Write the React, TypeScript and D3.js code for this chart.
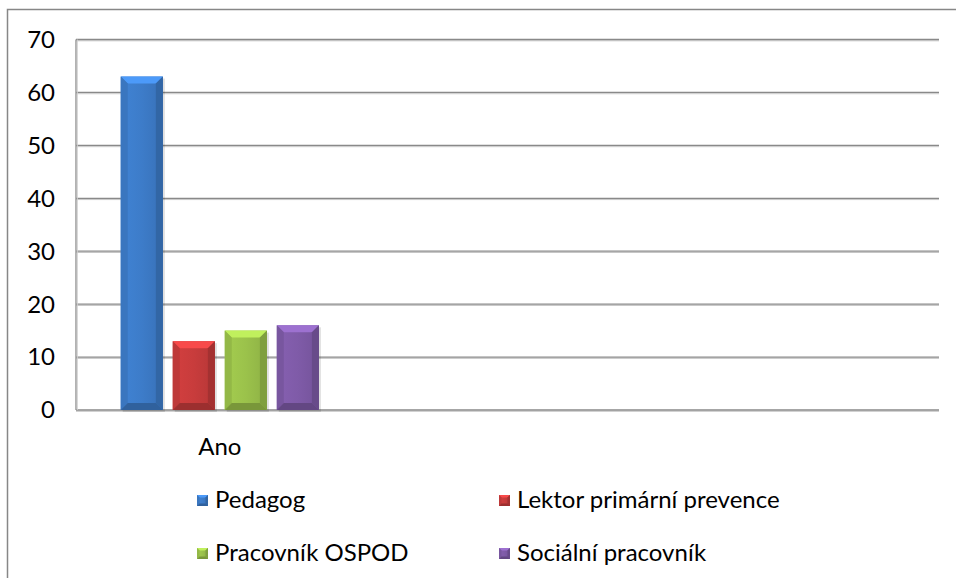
import * as d3 from 'd3';
import { useEffect, useRef } from 'react';

// chart data
const categories = ['Ano', '', ''];
const seriesNames = ['Pedagog', 'Lektor primární prevence', 'Pracovník OSPOD', 'Sociální pracovník'];
const seriesValues = [63, 13, 15, 16];
const seriesColors = ['#3d7cc9', '#c83c3c', '#9bc24b', '#7f5ba8'];
const yTicks = [0, 10, 20, 30, 40, 50, 60, 70];

const WIDTH = 956;
const HEIGHT = 578;
const FONT = 'Lato, "Open Sans", sans-serif';
const FS = 24;

const App = () => {
  const ref = useRef<SVGSVGElement>(null);

  useEffect(() => {
    const svg = d3.select(ref.current);
    svg.selectAll('*').remove();

    const left = 76,
      right = 939,
      top = 39.5,
      bottom = 410;

    const x0 = d3
      .scaleBand<number>()
      .domain(d3.range(categories.length))
      .range([left, right]);
    const x1 = d3
      .scaleBand<string>()
      .domain(seriesNames)
      .range([0, x0.bandwidth()])
      .paddingInner(0.19)
      .paddingOuter(0.86);
    const y = d3.scaleLinear().domain([0, 70]).range([bottom, top]);

    const defs = svg.append('defs');
    seriesColors.forEach((c, i) => {
      const g = defs
        .append('linearGradient')
        .attr('id', 'face' + i)
        .attr('x1', 0)
        .attr('x2', 1)
        .attr('y1', 0)
        .attr('y2', 0);
      g.append('stop').attr('offset', 0).attr('stop-color', d3.color(c)!.brighter(0.15).formatHex());
      g.append('stop').attr('offset', 0.5).attr('stop-color', c);
      g.append('stop').attr('offset', 1).attr('stop-color', d3.color(c)!.darker(0.25).formatHex());
    });

    // outer chart border (runs off the page right and bottom)
    svg
      .append('path')
      .attr('d', `M7.5,${HEIGHT + 5}V9.5H${WIDTH + 5}`)
      .attr('fill', 'none')
      .attr('stroke', '#878787')
      .attr('stroke-width', 1.5);

    // gridlines
    const grid = svg.append('g');
    grid
      .selectAll('line.shade')
      .data(yTicks)
      .enter()
      .append('line')
      .attr('x1', left)
      .attr('x2', right)
      .attr('y1', (d) => y(d) + 1.3)
      .attr('y2', (d) => y(d) + 1.3)
      .attr('stroke', '#c6c6c6')
      .attr('stroke-width', 1);
    grid
      .selectAll('line.main')
      .data(yTicks)
      .enter()
      .append('line')
      .attr('x1', left)
      .attr('x2', right)
      .attr('y1', (d) => y(d))
      .attr('y2', (d) => y(d))
      .attr('stroke', '#898989')
      .attr('stroke-width', 1.3);
    svg
      .append('line')
      .attr('x1', left)
      .attr('x2', left)
      .attr('y1', top)
      .attr('y2', bottom)
      .attr('stroke', '#898989')
      .attr('stroke-width', 1.3);
    svg
      .append('line')
      .attr('x1', left + 1.3)
      .attr('x2', left + 1.3)
      .attr('y1', top)
      .attr('y2', bottom)
      .attr('stroke', '#d0d0d0')
      .attr('stroke-width', 1);

    // y tick labels
    svg
      .append('g')
      .selectAll('text')
      .data(yTicks)
      .enter()
      .append('text')
      .attr('x', 55)
      .attr('y', (d) => y(d))
      .attr('dy', '0.35em')
      .attr('text-anchor', 'end')
      .attr('font-family', FONT)
      .attr('font-size', FS)
      .attr('fill', '#000')
      .text((d) => d);

    // category labels
    svg
      .append('g')
      .selectAll('text')
      .data(categories)
      .enter()
      .append('text')
      .attr('x', (d, i) => x0(i)! + x0.bandwidth() / 2)
      .attr('y', 447)
      .attr('dy', '0.35em')
      .attr('text-anchor', 'middle')
      .attr('font-family', FONT)
      .attr('font-size', FS)
      .attr('fill', '#000')
      .text((d) => d);

    // bevelled box
    const bevel = (
      g: d3.Selection<SVGGElement, unknown, null, undefined>,
      bx: number,
      by: number,
      w: number,
      h: number,
      b: number,
      i: number
    ) => {
      const c = d3.color(seriesColors[i])!;
      g.append('rect').attr('x', bx).attr('y', by).attr('width', w).attr('height', h).attr('fill', `url(#face${i})`);
      g.append('polygon')
        .attr('points', [[bx, by], [bx + w, by], [bx + w - b, by + b], [bx + b, by + b]].join(' '))
        .attr('fill', c.brighter(0.6).formatHex());
      g.append('polygon')
        .attr('points', [[bx, by], [bx + b, by + b], [bx + b, by + h - b], [bx, by + h]].join(' '))
        .attr('fill', c.darker(0.15).formatHex());
      g.append('polygon')
        .attr('points', [[bx + w, by], [bx + w - b, by + b], [bx + w - b, by + h - b], [bx + w, by + h]].join(' '))
        .attr('fill', c.darker(0.55).formatHex());
      g.append('polygon')
        .attr('points', [[bx, by + h], [bx + b, by + h - b], [bx + w - b, by + h - b], [bx + w, by + h]].join(' '))
        .attr('fill', c.darker(0.7).formatHex());
    };

    // bars
    const bars = svg.append('g');
    seriesValues.forEach((v, i) => {
      const bx = x0(0)! + x1(seriesNames[i])!;
      const w = x1.bandwidth();
      bars
        .append('rect')
        .attr('x', bx + 2)
        .attr('y', y(v) + 2)
        .attr('width', w)
        .attr('height', bottom - y(v))
        .attr('fill', '#000')
        .attr('opacity', 0.12);
      bevel(bars, bx, y(v), w, bottom - y(v), 7, i);
    });

    // legend
    const legend = svg.append('g');
    seriesNames.forEach((name, i) => {
      const lx = i % 2 === 0 ? 197 : 499;
      const ly = i < 2 ? 500 : 553;
      const g = legend.append('g');
      bevel(g, lx, ly - 5, 11, 11, 2.5, i);
      g.append('text')
        .attr('x', lx + 18)
        .attr('y', ly)
        .attr('dy', '0.35em')
        .attr('font-family', FONT)
        .attr('font-size', FS)
        .attr('fill', '#000')
        .text(name);
    });
  }, []);

  return (
    <svg
      ref={ref}
      width={WIDTH}
      height={HEIGHT}
      style={{ position: 'absolute', left: 0, top: 0, background: '#fff' }}
    />
  );
};

export default App;
